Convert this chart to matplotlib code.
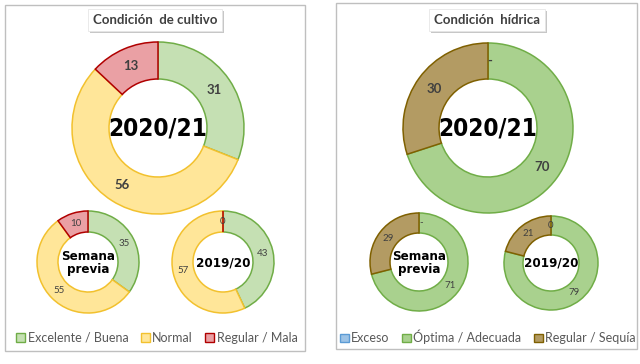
import matplotlib
matplotlib.use('Agg')
import matplotlib.pyplot as plt
from matplotlib.patches import Patch, Rectangle
import matplotlib.patheffects as pe
import numpy as np

# Condición de cultivo (%): Excelente/Buena, Normal, Regular/Mala
cultivo_labels = ['Excelente / Buena', 'Normal', 'Regular / Mala']
cultivo_2021 = [31, 56, 13]
cultivo_previa = [35, 55, 10]
cultivo_1920 = [43, 57, 0]

# Condición hídrica (%): Exceso, Óptima/Adecuada, Regular/Sequía
hidrica_labels = ['Exceso', 'Óptima / Adecuada', 'Regular / Sequía']
hidrica_2021 = [0, 70, 30]
hidrica_previa = [0, 71, 29]
hidrica_1920 = [0, 79, 21]

cultivo_fill = ['#C5E0B3', '#FFE699', '#EAA0A4']
cultivo_edge = ['#70AD47', '#F2C12E', '#B00000']
hidrica_fill = ['#9DC3E6', '#A9D18E', '#B39B63']
hidrica_edge = ['#5B9BD5', '#70AD47', '#7F6000']

H = 364
fig = plt.figure(figsize=(6.4, 3.64), dpi=100)
ax = fig.add_axes([0, 0, 1, 1])


def dona(vals, cx, cy, r, hole, fill, edge, fs, zero_txt):
    wedges, _ = ax.pie(vals, center=(cx, H - cy), radius=r, startangle=90,
                       counterclock=False, colors=fill, frame=True,
                       wedgeprops=dict(width=r - hole, linewidth=1.1))
    for w, e, v in zip(wedges, edge, vals):
        w.set_edgecolor(e)
        ang = np.deg2rad((w.theta1 + w.theta2) / 2)
        rm = (r + hole) / 2
        txt = zero_txt if v == 0 else str(v)
        dx = 2 if txt == '-' else 0
        ax.text(cx + dx + rm * np.cos(ang), H - cy + rm * np.sin(ang), txt,
                ha='center', va='center', fontsize=fs, color='#404040',
                family='Lato', fontweight='bold' if fs > 8 else 'normal')


# panel izquierdo
dona(cultivo_2021, 158, 128, 86, 49, cultivo_fill, cultivo_edge, 9.5, '')
dona(cultivo_previa, 88, 262, 51, 30, cultivo_fill, cultivo_edge, 7, '')
dona(cultivo_1920, 223, 262, 51, 30, cultivo_fill, cultivo_edge, 7, '0')

# panel derecho
dona(hidrica_2021, 488, 128, 85, 49, hidrica_fill, hidrica_edge, 9.5, '-')
dona(hidrica_previa, 419, 262, 49, 29, hidrica_fill, hidrica_edge, 7, '-')
dona(hidrica_1920, 551, 263, 47, 28, hidrica_fill, hidrica_edge, 7, '0')

ax.set_xlim(0, 640)
ax.set_ylim(0, H)
ax.set_aspect('auto')
ax.axis('off')

# textos centrales (fuente condensada)
centro = dict(ha='center', va='center', family='DejaVu Sans',
              fontstretch='condensed', fontweight='bold', color='black')
ax.text(158, H - 129, '2020/21', fontsize=17.5, **centro)
ax.text(488, H - 129, '2020/21', fontsize=17.5, **centro)
ax.text(88, H - 263, 'Semana\nprevia', fontsize=9.5, linespacing=1.05, **centro)
ax.text(419, H - 263, 'Semana\nprevia', fontsize=9.5, linespacing=1.05, **centro)
ax.text(223, H - 263, '2019/20', fontsize=9.5, **centro)
ax.text(551, H - 263, '2019/20', fontsize=9.5, **centro)

# marcos
ax.add_patch(Rectangle((5, H - 351), 300, 346, fill=False, ec='#BFBFBF', lw=1))
ax.add_patch(Rectangle((336, H - 349), 301, 346, fill=False, ec='#BFBFBF', lw=1))

# titulos con sombra
for x, t in [(155, 'Condición  de cultivo'), (487, 'Condición  hídrica')]:
    tt = ax.text(x, H - 20, t, ha='center', va='center', fontsize=9.5,
                 family='Lato', fontweight='bold', color='#404040',
                 bbox=dict(boxstyle='square,pad=0.35', fc='white', ec='#E6E6E6', lw=0.6))
    tt.get_bbox_patch().set_path_effects(
        [pe.SimplePatchShadow(offset=(1.5, -1.5), shadow_rgbFace='#B0B0B0', alpha=0.7),
         pe.Normal()])

# leyendas
h1 = [Patch(fc=f, ec=e, lw=1) for f, e in zip(cultivo_fill, cultivo_edge)]
h2 = [Patch(fc=f, ec=e, lw=1) for f, e in zip(hidrica_fill, hidrica_edge)]
legkw = dict(ncol=3, frameon=False, handlelength=0.7, handleheight=0.7,
             handletextpad=0.2, columnspacing=1.0, loc='center',
             prop=dict(family='Lato', size=9), labelcolor='#595959')
l1 = ax.legend(h1, cultivo_labels, bbox_to_anchor=(157, H - 338),
               bbox_transform=ax.transData, **legkw)
ax.add_artist(l1)
ax.legend(h2, hidrica_labels, bbox_to_anchor=(488, H - 337),
          bbox_transform=ax.transData, **legkw)

fig.savefig('out.png', dpi=100, facecolor='white')
